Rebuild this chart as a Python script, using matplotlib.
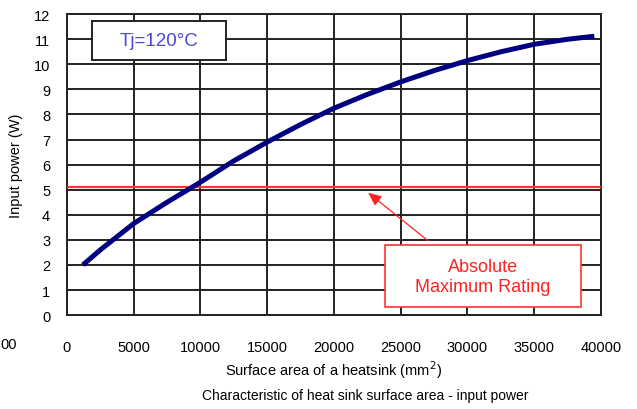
import matplotlib.pyplot as plt
from matplotlib.patches import Rectangle

plt.rcParams['font.family'] = ['Liberation Sans', 'DejaVu Sans']

# heatsink surface area (mm^2) vs allowable input power (W), Tj=120C
area = [1200, 2500, 5000, 7500, 10000, 12500, 15000, 17500, 20000,
        22500, 25000, 27500, 30000, 32500, 35000, 37500, 39500]
power = [2.0, 2.6, 3.65, 4.5, 5.3, 6.15, 6.9, 7.6, 8.25,
         8.8, 9.3, 9.75, 10.15, 10.5, 10.8, 11.0, 11.12]
abs_max = 5.1

x_ticks = [0, 5000, 10000, 15000, 20000, 25000, 30000, 35000, 40000]
y_ticks = list(range(0, 13))

fig = plt.figure(figsize=(6.37, 4.10), dpi=100)
ax = fig.add_axes([0.105, 0.229, 0.8385, 0.734])

ax.set_xlim(0, 40000)
ax.set_ylim(0, 12)
ax.set_xticks(x_ticks)
ax.set_yticks(y_ticks)
ax.set_xticklabels([str(t) for t in x_ticks])
ax.tick_params(axis='x', length=0, pad=18, labelsize=10.5)
ax.tick_params(axis='y', length=0, pad=12, labelsize=10.5)
ax.grid(True, color='#222222', linewidth=1.4)
for s in ax.spines.values():
    s.set_color('#222222')
    s.set_linewidth(1.4)

ax.axhline(abs_max, color='#ff3333', linewidth=1.6, zorder=3)
ax.plot(area, power, color='#000080', linewidth=3.6, solid_capstyle='butt',
        solid_joinstyle='round', zorder=4)

# Tj label box
ax.add_patch(Rectangle((1900, 10.18), 10050, 1.55, facecolor='white',
                       edgecolor='#222222', linewidth=1.4, zorder=5))
ax.text(6925, 10.95, 'Tj=120°C', color='#4a4ad0', fontsize=13.5,
        ha='center', va='center', zorder=6)

# Absolute maximum rating callout
ax.add_patch(Rectangle((23800, 0.31), 14720, 2.49, facecolor='white',
                       edgecolor='#ff3333', linewidth=1.2, zorder=5, clip_on=False))
ax.text(31160, 1.55, 'Absolute\nMaximum Rating', color='#ff2222', fontsize=13,
        ha='center', va='center', linespacing=1.2, zorder=6)
ax.annotate('', xy=(22400, 4.95), xytext=(27200, 2.9),
            arrowprops=dict(arrowstyle='-|>,head_length=0.8,head_width=0.35',
                            color='#ff2222', lw=0.9), zorder=6)

ax.set_ylabel('Input power (W)', fontsize=10.5, labelpad=8)
ax.set_xlabel('Surface area of a heatsink (mm$^2$)', fontsize=10.5, labelpad=3)
fig.text(0.573, 0.035, 'Characteristic of heat sink surface area - input power',
         fontsize=10, ha='center', va='center')
fig.text(0.0, 0.158, '00', fontsize=10.5, ha='left', va='center')

fig.savefig('out.png', dpi=100)
